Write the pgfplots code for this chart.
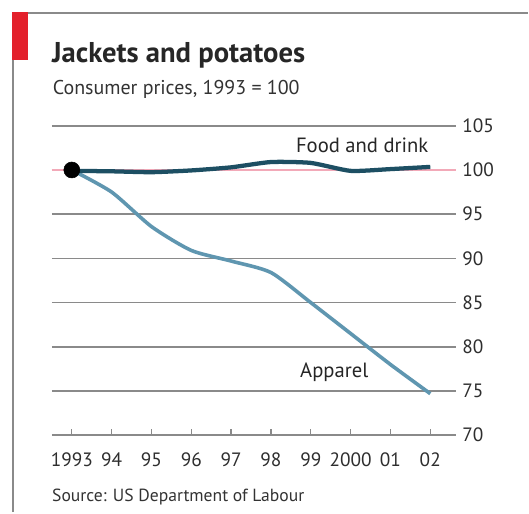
\documentclass[border=0pt]{standalone}
\usepackage{pgfplots}
\pgfplotsset{compat=1.18}
\usepackage{fontspec}
\setmainfont{PT Sans}
\definecolor{food}{HTML}{1D4F63}
\definecolor{app}{HTML}{5F96B0}
\definecolor{gridg}{HTML}{8A8A8A}
\definecolor{ered}{HTML}{E3202B}
\definecolor{pinkl}{HTML}{F2A9B8}
\begin{document}
\begin{tikzpicture}
\path[fill=white] (0pt,0pt) rectangle (396.75pt,384.75pt);
\draw[gridg, line width=1.4pt] (9.75pt,0pt) -- (9.75pt,375pt) -- (396.75pt,375pt);
\fill[ered] (9.05pt,375.7pt) rectangle (21pt,339.75pt);
\node[anchor=base west, inner sep=0pt, text=black!85] at (39pt,337.5pt) {\fontsize{21.5}{24}\selectfont\bfseries Jackets and potatoes};
\node[anchor=base west, inner sep=0pt, text=black!80] at (39.5pt,313.5pt) {\fontsize{15}{17}\selectfont Consumer prices, 1993 = 100};
\node[anchor=base west, inner sep=0pt, text=black!80] at (39pt,8.25pt) {\fontsize{13.2}{15}\selectfont Source: US Department of Labour};
\begin{axis}[
  at={(39pt,57.75pt)}, anchor=south west,
  scale only axis, width=303.75pt, height=232.5pt,
  xmin=1992.5, xmax=2002.65, ymin=70, ymax=105,
  axis line style={draw=none},
  clip=false,
  xtick={1993,...,2002},
  xticklabels={1993,94,95,96,97,98,99,2000,01,02},
  xtick pos=bottom, tick align=inside,
  x tick style={gridg, line width=1pt},
  major tick length=5pt,
  ytick={70,75,...,105},
  ytick pos=right,
  y tick style={draw=none},
  ymajorgrids,
  major grid style={gridg, line width=1.1pt},
  /pgf/number format/assume math mode=true,
  ticklabel style={font=\fontsize{14.5}{16}\selectfont, text=black!82},
  xticklabel style={anchor=base, yshift=-23.25pt, inner sep=0pt},
  yticklabel style={anchor=west, inner sep=0pt, xshift=4.5pt},
]
\addplot[pinkl, line width=1.1pt] coordinates {(1992.5,100) (2002.65,100)};
\addplot[app, line width=2.7pt, smooth, tension=0.4] coordinates {
(1993,100) (1994,97.5) (1995,93.6) (1996,90.9) (1997,89.7) (1998,88.4)
(1999,85.0) (2000,81.5) (2001,78.0) (2002,74.7)};
\addplot[food, line width=3.2pt, smooth, tension=0.35] coordinates {
(1993,99.9) (1994,99.85) (1995,99.75) (1996,99.95) (1997,100.3) (1998,100.9)
(1999,100.8) (2000,99.9) (2001,100.1) (2002,100.35)};
\addplot[only marks, mark=*, mark size=6pt, black] coordinates {(1993,100)};
\node[anchor=base, inner sep=0pt, text=black!85, font=\fontsize{15.5}{17}\selectfont] at (axis cs:2000.29,102.0) {Food and drink};
\node[anchor=base, inner sep=0pt, text=black!85, font=\fontsize{15.5}{17}\selectfont] at (axis cs:1999.59,76.5) {Apparel};
\end{axis}
\end{tikzpicture}
\end{document}
